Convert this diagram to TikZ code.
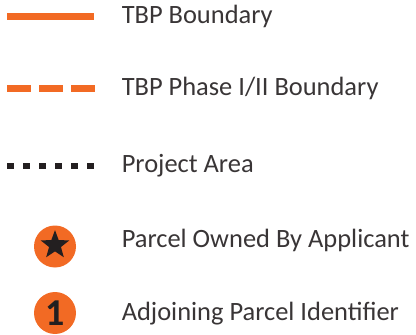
\documentclass[tikz,border=0pt]{standalone}
\usepackage{fontspec}
\setmainfont{Carlito}
\usetikzlibrary{shapes.geometric}
\definecolor{tbporange}{RGB}{242,106,36}
\definecolor{inkdark}{RGB}{35,31,32}
\tikzset{
	legendtext/.style={anchor=west, inner sep=0pt, text=inkdark!90, font=\fontsize{18.8}{20}\selectfont},
	boundline/.style={line width=7*0.025cm, color=tbporange},
	phaseline/.style={boundline, dash pattern=on 24*0.025cm off 8*0.025cm},
	areadot/.style={fill=inkdark, draw=none},
	markdisc/.style={circle, fill=tbporange, minimum size=42*0.025cm, inner sep=0pt}
}

\begin{document}
\begin{tikzpicture}[x=0.025cm, y=-0.025cm]
			%%%%% START %%%%%
			\useasboundingbox (0, 0) rectangle (416, 335);
			
			% boundary lines
			\coordinate (b1) at (7, 16);
			\coordinate (b2) at (94, 16);
			\draw[boundline] (b1) -- (b2);
			\node[legendtext] (tBound) at (121.5, 16) {TBP Boundary};
			
			\coordinate (p1) at (7, 88.5);
			\coordinate (p2) at (95, 88.5);
			\draw[phaseline] (p1) -- (p2);
			\node[legendtext] (tPhase) at (121.5, 88.5) {TBP Phase I/II Boundary};
			
			% project area
			\foreach \i in {0,...,5}
				\fill[areadot] (7+16*\i, 162.5) rectangle (13.5+16*\i, 169);
			\node[legendtext] (tArea) at (121.5, 166) {Project Area};
			
			% parcel markers
			\node[markdisc] (own) at (55, 246.5) {};
			\node[star, star points=5, star point ratio=2.4, fill=inkdark, inner sep=0pt, minimum size=30*0.025cm] (ownStar) at ([yshift=1]own) {};
			\node[legendtext] (tOwn) at (121.5, 240) {Parcel Owned By Applicant};
			
			\node[markdisc, text=inkdark, font=\bfseries\fontsize{27}{28}\selectfont] (adj) at (55, 313) {1};
			\node[legendtext] (tAdj) at (121.5, 313.5) {Adjoining Parcel Identifier};
			%%%%% END %%%%%
\end{tikzpicture}
\end{document}
